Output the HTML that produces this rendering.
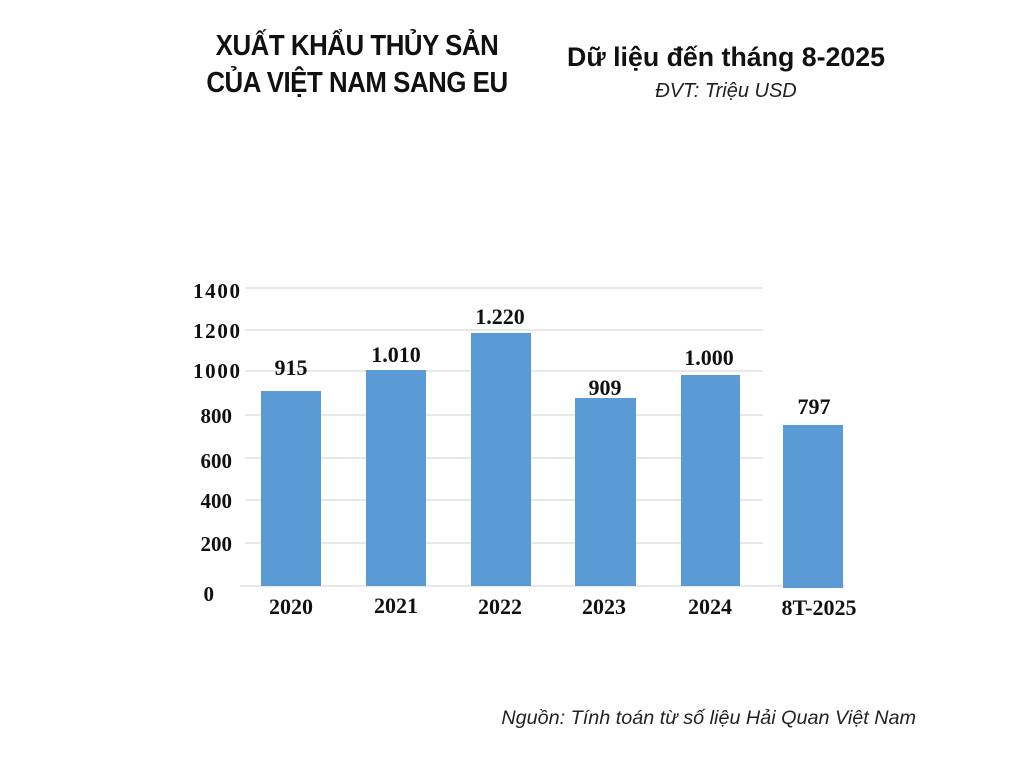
<!DOCTYPE html>
<html><head><meta charset="utf-8"><style>
body{margin:0;width:1024px;height:768px;background:#fff;position:relative;overflow:hidden;font-family:"Liberation Sans",sans-serif}
.t{position:absolute;white-space:nowrap}
</style></head><body>
<div class="t" style="left:357px;top:28px;transform:translateX(-50%) scaleX(0.89);font-weight:bold;font-size:29px;line-height:37px;text-align:center;color:#111;letter-spacing:-0.5px">XUẤT KHẨU THỦY SẢN<br>CỦA VIỆT NAM SANG EU</div>
<div class="t" style="left:726px;top:42px;transform:translateX(-50%) scaleX(0.99);font-weight:bold;font-size:27px;color:#111">Dữ liệu đến tháng 8-2025</div>
<div class="t" style="left:726px;top:80px;transform:translateX(-50%);font-style:italic;font-size:20px;color:#222">ĐVT: Triệu USD</div>
<div class="t" style="right:108px;top:707px;font-style:italic;font-size:19.8px;color:#222">Nguồn: Tính toán từ số liệu Hải Quan Việt Nam</div>
<svg width="1024" height="768" style="position:absolute;left:0;top:0" font-family="Liberation Serif,serif" font-weight="bold">
<g stroke="#e8e8e8" stroke-width="2">
<line x1="245" x2="763" y1="288" y2="288"/><line x1="245" x2="763" y1="330" y2="330"/><line x1="245" x2="763" y1="371" y2="371"/><line x1="245" x2="763" y1="415" y2="415"/><line x1="245" x2="763" y1="458" y2="458"/><line x1="245" x2="763" y1="500" y2="500"/><line x1="245" x2="763" y1="543" y2="543"/><line x1="240" x2="845" y1="586" y2="586"/>
</g>
<g font-size="21" text-anchor="end" fill="#111">
<text x="240" y="298" textLength="47">1400</text><text x="240" y="338" textLength="47">1200</text><text x="240" y="378" textLength="47">1000</text><text x="232" y="423">800</text><text x="232" y="468">600</text><text x="232" y="508">400</text><text x="232" y="551">200</text><text x="214" y="601">0</text>
</g>
<g fill="#5b9bd5">
<rect x="261" y="391" width="60" height="195"/><rect x="366" y="370" width="60" height="216"/><rect x="471" y="333" width="60" height="253"/><rect x="575" y="398" width="61" height="188"/><rect x="681" y="375" width="59" height="211"/><rect x="783" y="425" width="60" height="163"/>
</g>
<g font-size="22" text-anchor="middle" fill="#111">
<text x="291" y="375">915</text><text x="396" y="362">1.010</text><text x="500" y="324">1.220</text><text x="605" y="395">909</text><text x="709" y="365">1.000</text><text x="814" y="414">797</text>
</g>
<g font-size="22" text-anchor="middle" fill="#111">
<text x="291" y="614">2020</text><text x="396" y="613">2021</text><text x="500" y="614">2022</text><text x="604" y="614">2023</text><text x="710" y="614">2024</text><text x="819" y="615">8T-2025</text>
</g>
</svg>
</body></html>
